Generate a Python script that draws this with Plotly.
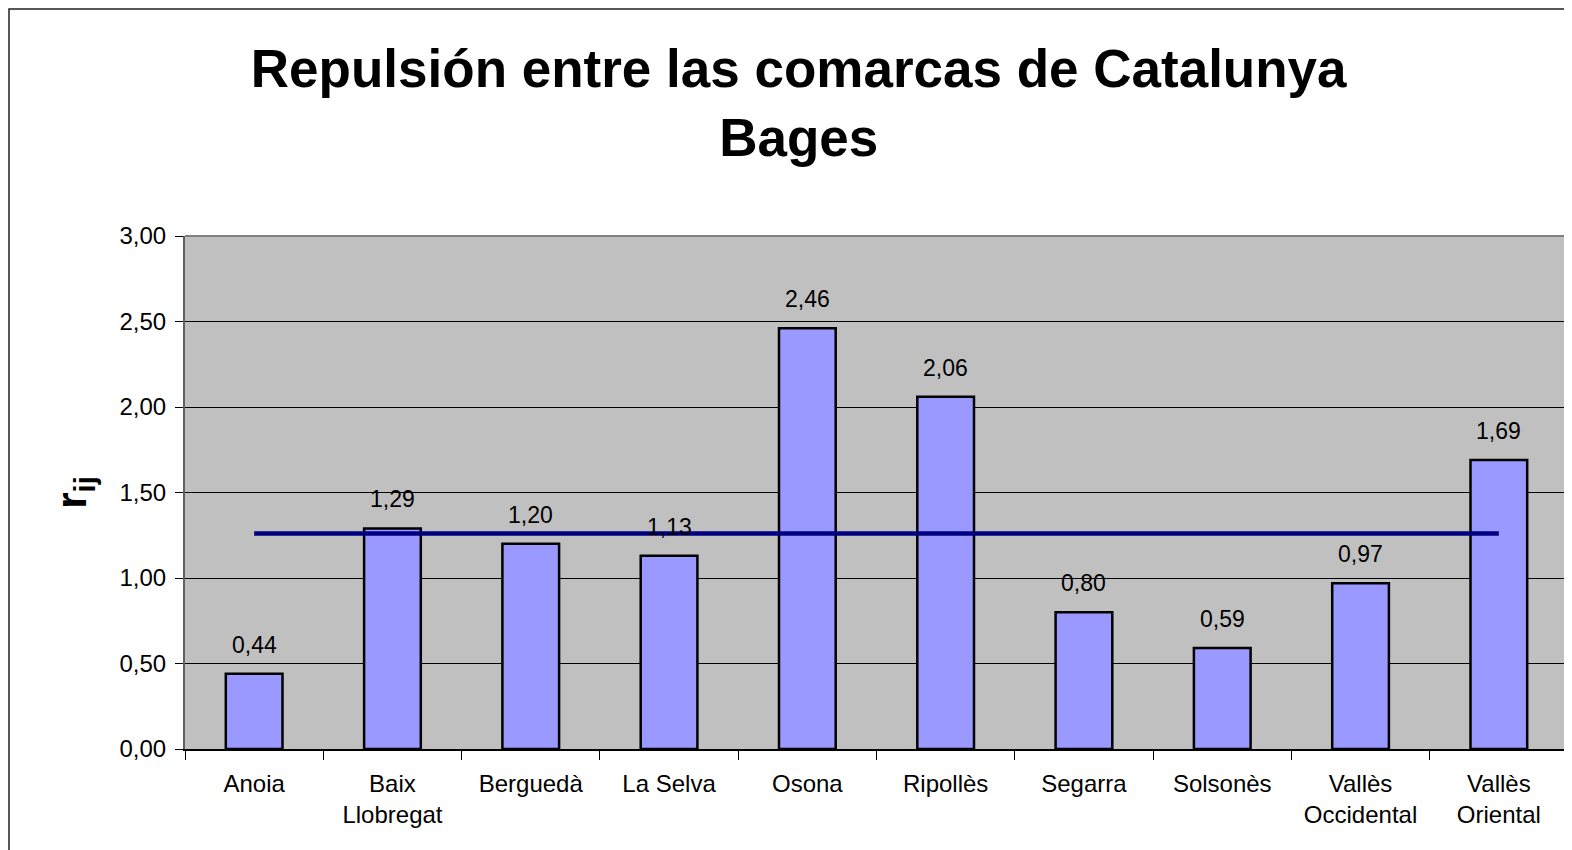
import plotly.graph_objects as go

categories = ["Anoia", "Baix<br>Llobregat", "Berguedà", "La Selva", "Osona",
              "Ripollès", "Segarra", "Solsonès", "Vallès<br>Occidental", "Vallès<br>Oriental"]
values = [0.44, 1.29, 1.20, 1.13, 2.46, 2.06, 0.80, 0.59, 0.97, 1.69]
mean_line = [1.26] * 10
y_ticks = [0, 0.5, 1.0, 1.5, 2.0, 2.5, 3.0]

FONT = "Arial, Liberation Sans, sans-serif"

L, R, T, B = 177, 12, 228, 109
PW = 1572 - L - R
PH = 850 - T - B

fig = go.Figure()
fig.add_trace(go.Bar(
    x=categories, y=values,
    marker=dict(color="#9999FF", line=dict(color="black", width=2.5)),
    width=0.41, showlegend=False, hoverinfo="skip",
))
fig.add_trace(go.Scatter(
    x=categories, y=mean_line, mode="lines",
    line=dict(color="#000080", width=4.5), showlegend=False, hoverinfo="skip",
))

for c, v in zip(categories, values):
    fig.add_annotation(
        x=c, y=v, text=f"{v:.2f}".replace(".", ","), showarrow=False,
        yanchor="bottom", yshift=14, font=dict(size=23, color="black", family=FONT),
    )

# outer frame (figure edge)
fig.add_shape(type="rect", xref="paper", yref="paper",
              x0=(1 - L) / PW, x1=1.2, y0=-0.5, y1=(PH + T - 1) / PH,
              line=dict(color="#202020", width=1.5), fillcolor="rgba(0,0,0,0)", layer="above")

fig.update_layout(
    width=1572, height=850,
    margin=dict(l=L, r=R, t=T, b=B),
    paper_bgcolor="white", plot_bgcolor="#C0C0C0",
    separators=",.",
    font=dict(family=FONT, color="black", size=24),
    title=dict(
        text="<b>Repulsión entre las comarcas de Catalunya<br>Bages</b>",
        x=0.503, xanchor="center", xref="container",
        y=0.907, yanchor="top", yref="container",
        font=dict(size=53, family=FONT, color="black"),
    ),
    xaxis=dict(
        tickson="boundaries", ticks="outside", ticklen=9, tickcolor="black",
        showline=True, linecolor="black", linewidth=1.5,
        mirror=False, showgrid=False, ticklabelstandoff=12,
        tickfont=dict(size=24, family=FONT),
    ),
    yaxis=dict(
        range=[0, 3.0], tickvals=y_ticks, tickformat=".2f",
        ticks="outside", ticklen=8, tickcolor="black",
        showline=True, linecolor="#606060", linewidth=2,
        showgrid=True, gridcolor="black", gridwidth=1,
        zeroline=False, ticklabelstandoff=4,
        tickfont=dict(size=24, family=FONT),
        title=dict(text="<b>r</b><sub><b>ij</b></sub>", font=dict(size=42, family=FONT), standoff=20),
    ),
)

# gray plot-area border on top and right
fig.add_shape(type="line", xref="paper", yref="paper", x0=0, x1=1, y0=1, y1=1,
              line=dict(color="#808080", width=2))
fig.add_shape(type="line", xref="paper", yref="paper", x0=1, x1=1, y0=0, y1=1,
              line=dict(color="#808080", width=2))

fig.write_html("out.html")
